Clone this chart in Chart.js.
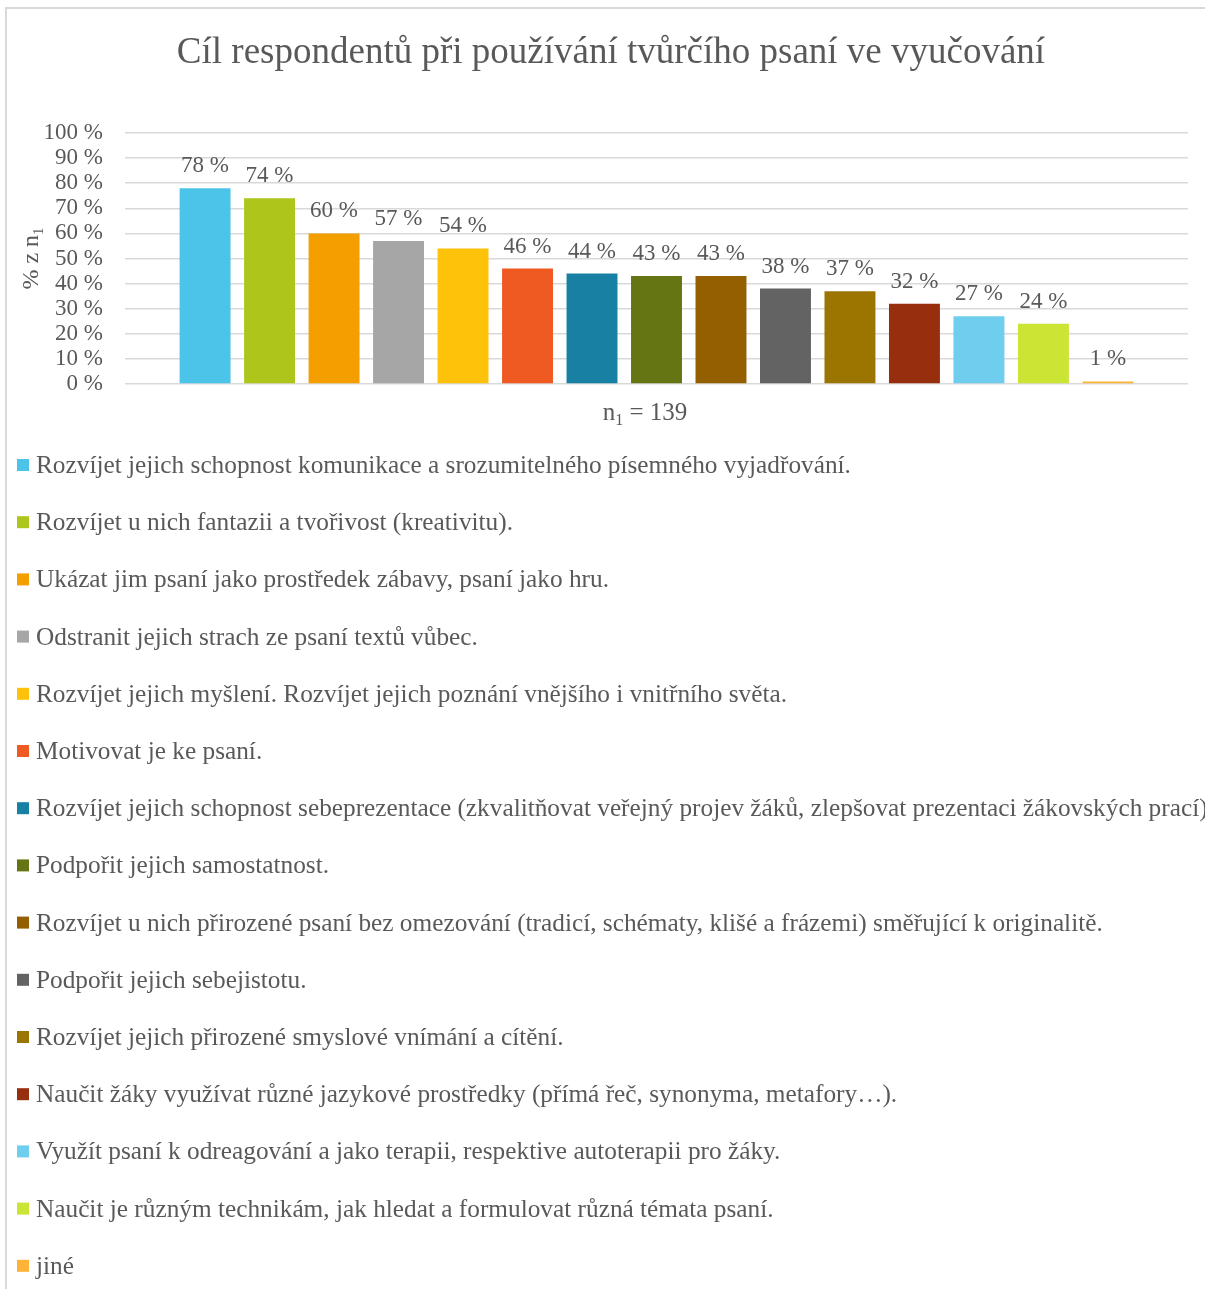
<!DOCTYPE html>
<html>
<head>
<meta charset="utf-8">
<script src="https://cdn.jsdelivr.net/npm/chart.js@4.4.1/dist/chart.umd.min.js"></script>
<style>
  html, body { margin: 0; padding: 0; background: #ffffff; }
  canvas { display: block; }
</style>
</head>
<body>
<canvas id="c" width="1205" height="1289"></canvas>
<script>
const chartTitle = 'Cíl respondentů při používání tvůrčího psaní ve vyučování';
const categories = [''];
const seriesNames = [
  'Rozvíjet jejich schopnost komunikace a srozumitelného písemného vyjadřování.',
  'Rozvíjet u nich fantazii a tvořivost (kreativitu).',
  'Ukázat jim psaní jako prostředek zábavy, psaní jako hru.',
  'Odstranit jejich strach ze psaní textů vůbec.',
  'Rozvíjet jejich myšlení. Rozvíjet jejich poznání vnějšího i vnitřního světa.',
  'Motivovat je ke psaní.',
  'Rozvíjet jejich schopnost sebeprezentace (zkvalitňovat veřejný projev žáků, zlepšovat prezentaci žákovských prací).',
  'Podpořit jejich samostatnost.',
  'Rozvíjet u nich přirozené psaní bez omezování (tradicí, schématy, klišé a frázemi) směřující k originalitě.',
  'Podpořit jejich sebejistotu.',
  'Rozvíjet jejich přirozené smyslové vnímání a cítění.',
  'Naučit žáky využívat různé jazykové prostředky (přímá řeč, synonyma, metafory…).',
  'Využít psaní k odreagování a jako terapii, respektive autoterapii pro žáky.',
  'Naučit je různým technikám, jak hledat a formulovat různá témata psaní.',
  'jiné'
];
const seriesValues = [78, 74, 60, 57, 54, 46, 44, 43, 43, 38, 37, 32, 27, 24, 1];
const seriesColors = [
  '#4CC3E8', '#AEC51B', '#F59E00', '#A6A6A6', '#FFC20A',
  '#EF5A23', '#1880A3', '#667513', '#945F00', '#636363',
  '#9B7500', '#972F0E', '#6FCDED', '#CCE433', '#FFB23A'
];
const yAxisTitle = '% z n';
const yAxisTitleSub = '1';
const xAxisTitle = 'n';
const xAxisTitleSub = '1';
const xAxisTitleRest = ' = 139';
const yMin = 0, yMax = 100, yStep = 10;

const SERIF = '"Liberation Serif", "Times New Roman", serif';
const TXT = '#595959';

const datasets = seriesNames.map((name, i) => ({
  label: name,
  data: [seriesValues[i]],
  backgroundColor: seriesColors[i],
  borderWidth: 0,
  categoryPercentage: 0.91,
  barPercentage: 0.79
}));

const decor = {
  id: 'decor',
  beforeDraw(chart) {
    const ctx = chart.ctx;
    ctx.save();
    ctx.fillStyle = '#ffffff';
    ctx.fillRect(0, 0, chart.width, chart.height);
    ctx.strokeStyle = '#d9d9d9';
    ctx.lineWidth = 2;
    ctx.strokeRect(6, 8, 3000, 3000);
    ctx.restore();
  },
  afterDatasetsDraw(chart) {
    const ctx = chart.ctx;
    ctx.save();
    // data labels
    ctx.font = '23px ' + SERIF;
    ctx.fillStyle = TXT;
    ctx.textAlign = 'center';
    ctx.textBaseline = 'alphabetic';
    chart.data.datasets.forEach((ds, i) => {
      const meta = chart.getDatasetMeta(i);
      meta.data.forEach((bar, j) => {
        ctx.fillText(ds.data[j] + ' %', bar.x, bar.y - 16);
      });
    });

    // chart title
    ctx.font = '37px ' + SERIF;
    ctx.textAlign = 'center';
    ctx.fillText(chartTitle, 611, 63);

    // y axis title (rotated, with subscript)
    ctx.save();
    ctx.translate(31, chart.chartArea.top + (chart.chartArea.bottom - chart.chartArea.top) / 2);
    ctx.rotate(-Math.PI / 2);
    ctx.font = '24px ' + SERIF;
    const w1 = ctx.measureText(yAxisTitle).width;
    ctx.font = '15px ' + SERIF;
    const w2 = ctx.measureText(yAxisTitleSub).width;
    let sx = -(w1 + w2) / 2;
    ctx.textAlign = 'left';
    ctx.textBaseline = 'alphabetic';
    ctx.font = '24px ' + SERIF;
    ctx.fillText(yAxisTitle, sx, 7);
    ctx.font = '15px ' + SERIF;
    ctx.fillText(yAxisTitleSub, sx + w1, 12);
    ctx.restore();

    // x axis title with subscript
    ctx.font = '25px ' + SERIF;
    ctx.textAlign = 'left';
    const a = ctx.measureText(xAxisTitle).width;
    const c = ctx.measureText(xAxisTitleRest).width;
    ctx.font = '16px ' + SERIF;
    const b = ctx.measureText(xAxisTitleSub).width;
    let xx = 645 - (a + b + c) / 2;
    ctx.font = '25px ' + SERIF;
    ctx.fillText(xAxisTitle, xx, 420);
    ctx.font = '16px ' + SERIF;
    ctx.fillText(xAxisTitleSub, xx + a, 425);
    ctx.font = '25px ' + SERIF;
    ctx.fillText(xAxisTitleRest, xx + a + b, 420);

    // legend
    ctx.font = '25.3px ' + SERIF;
    chart.data.datasets.forEach((ds, i) => {
      const base = 473 + 57.2 * i;
      ctx.fillStyle = ds.backgroundColor;
      ctx.fillRect(17, base - 14, 12, 12);
      ctx.fillStyle = TXT;
      ctx.fillText(ds.label, 36, base);
    });
    ctx.restore();
  }
};

new Chart(document.getElementById('c'), {
  type: 'bar',
  data: { labels: categories, datasets },
  options: {
    responsive: false,
    devicePixelRatio: 1,
    animation: false,
    layout: { padding: { top: 133, bottom: 1289 - 384, left: 0, right: 17 } },
    plugins: {
      legend: { display: false },
      title: { display: false },
      tooltip: { enabled: false }
    },
    scales: {
      x: { display: false },
      y: {
        min: yMin, max: yMax,
        ticks: {
          stepSize: yStep,
          autoSkip: false,
          callback: v => v + ' %',
          font: { family: SERIF, size: 23 },
          color: TXT,
          padding: 22
        },
        grid: { color: '#d9d9d9', lineWidth: 1.5, drawTicks: false },
        border: { display: false },
        afterFit: s => { s.width = 125; }
      }
    }
  },
  plugins: [decor]
});
</script>
</body>
</html>
